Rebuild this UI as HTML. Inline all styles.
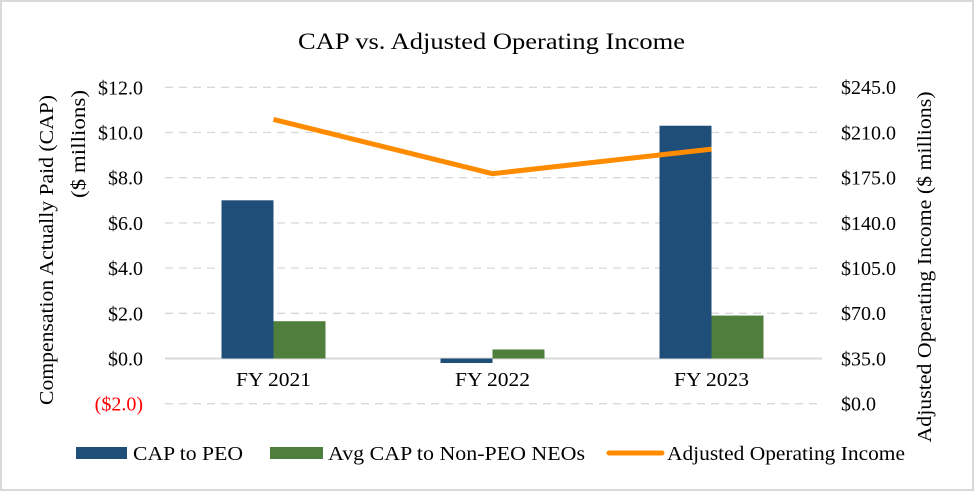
<!DOCTYPE html>
<html><head><meta charset="utf-8"><style>
body{margin:0;background:#fff;font-family:"Liberation Serif",serif;}
svg{display:block}
</style></head><body>
<svg width="975" height="492" viewBox="0 0 975 492">
<rect x="1" y="1" width="972" height="489" fill="#fff" stroke="#d9d9d9" stroke-width="2"/>
<text x="298" y="49" font-size="23" textLength="387" lengthAdjust="spacingAndGlyphs" fill="#000">CAP vs. Adjusted Operating Income</text>
<g id="grid"></g><g id="bars"></g><g id="line"></g><g id="axes"></g>
<text transform="translate(53,250) rotate(-90)" text-anchor="middle" font-size="20" textLength="310" lengthAdjust="spacingAndGlyphs">Compensation Actually Paid (CAP)</text>
<text transform="translate(85,144) rotate(-90)" text-anchor="middle" font-size="20" textLength="108" lengthAdjust="spacingAndGlyphs">($ millions)</text>
<text transform="translate(931,267) rotate(-90)" text-anchor="middle" font-size="20" textLength="351" lengthAdjust="spacingAndGlyphs">Adjusted Operating Income ($ millions)</text>
<g>
<rect x="76" y="447" width="51" height="12" fill="#1f4e79"/>
<text x="133" y="460" font-size="20" textLength="110" lengthAdjust="spacingAndGlyphs">CAP to PEO</text>
<rect x="270" y="447" width="53" height="12" fill="#507e3c"/>
<text x="328" y="460" font-size="20" textLength="257" lengthAdjust="spacingAndGlyphs">Avg CAP to Non-PEO NEOs</text>
<line x1="609" y1="453" x2="662" y2="453" stroke="#ff8c00" stroke-width="5" stroke-linecap="round"/>
<text x="667" y="460" font-size="20" textLength="238" lengthAdjust="spacingAndGlyphs">Adjusted Operating Income</text>
</g>
</svg>
<script>
const categories=["FY 2021","FY 2022","FY 2023"];
const capPEO=[7.0,-0.2,10.3];
const capNEO=[1.65,0.4,1.9];
const aoi=[220,178,197];
const leftTicks=[-2,0,2,4,6,8,10,12];
const rightTicks=[0,35,70,105,140,175,210,245];
const NS="http://www.w3.org/2000/svg";
const x0=165,x1=822,yL=v=>358.5-v*22.6,yR=v=>403.7-v*(316.6/245);
const band=(x1-x0)/categories.length;
const xc=i=>x0+band*(i+0.5)-1;
function mk(t,a,p){const e=document.createElementNS(NS,t);for(const k in a)e.setAttribute(k,a[k]);document.getElementById(p).appendChild(e);return e;}
leftTicks.forEach((v,i)=>{
 const y=yL(v);
 const g=mk("line",{x1:x0,x2:x1,y1:y,y2:y,stroke:"#d9d9d9","stroke-width":v===0?2:1.3,"stroke-dasharray":v===0?"":"8,6"},"grid");
 
 
 const t=mk("text",{x:143,y:y+7,"text-anchor":"end","font-size":20,fill:v<0?"#ff0000":"#000"},"axes");
 t.textContent=v<0?"($"+Math.abs(v).toFixed(1)+")":"$"+v.toFixed(1);
 
 
});
rightTicks.forEach(v=>{
 const t=mk("text",{x:841,y:yR(v)+7,"font-size":20},"axes");
 t.textContent="$"+v.toFixed(1);
 
 
});
categories.forEach((c,i)=>{
 const cx=xc(i),w=52;
 const b1=mk("rect",{x:cx-w,width:w,y:Math.min(yL(capPEO[i]),yL(0)),height:Math.abs(yL(capPEO[i])-yL(0)),fill:"#1f4e79"},"bars");
 
 
 const b2=mk("rect",{x:cx,width:w,y:Math.min(yL(capNEO[i]),yL(0)),height:Math.abs(yL(capNEO[i])-yL(0)),fill:"#507e3c"},"bars");
 
 
 const t=mk("text",{x:cx,y:386,"text-anchor":"middle","font-size":20,textLength:75,lengthAdjust:"spacingAndGlyphs"},"axes");
 t.textContent=c;
 
 
});
const pl=mk("polyline",{points:aoi.map((v,i)=>xc(i)+","+yR(v)).join(" "),fill:"none",stroke:"#ff8c00","stroke-width":5,"stroke-linejoin":"round"},"line");


</script>
</body></html>
